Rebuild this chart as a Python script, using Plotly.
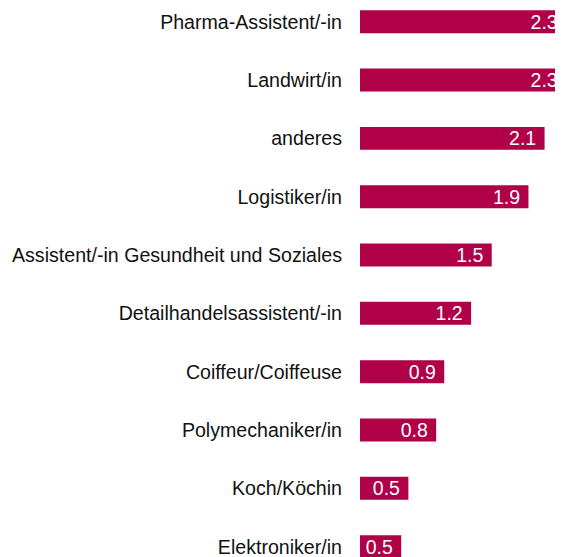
import plotly.graph_objects as go

categories = [
    "Pharma-Assistent/-in",
    "Landwirt/in",
    "anderes",
    "Logistiker/in",
    "Assistent/-in Gesundheit und Soziales",
    "Detailhandelsassistent/-in",
    "Coiffeur/Coiffeuse",
    "Polymechaniker/in",
    "Koch/Köchin",
    "Elektroniker/in",
]
values = [2.3, 2.3, 2.06, 1.88, 1.47, 1.24, 0.94, 0.85, 0.54, 0.46]

BAR_COLOR = "#AF0048"
FONT = "Arial, Liberation Sans, sans-serif"

fig = go.Figure(
    go.Bar(
        x=values,
        y=categories,
        orientation="h",
        marker=dict(color=BAR_COLOR, line=dict(width=0)),
        width=0.394,
        texttemplate="%{x:.1f}\u00a0",
        textposition="inside",
        insidetextanchor="end",
        constraintext="none",
        textfont=dict(family=FONT, size=19.5, color="white"),
        hoverinfo="skip",
    )
)

fig.update_layout(
    template="none",
    width=555,
    height=549,
    margin=dict(l=352, r=0, t=0, b=0, pad=0),
    paper_bgcolor="white",
    plot_bgcolor="white",
    showlegend=False,
    font=dict(family=FONT, size=19.6, color="#111111"),
)
fig.update_xaxes(
    range=[0, 2.2656],
    showgrid=False,
    zeroline=False,
    showline=False,
    showticklabels=False,
    ticks="",
    automargin=False,
)
fig.update_yaxes(
    type="category",
    categoryorder="array",
    categoryarray=categories,
    range=[9.177, -0.235],
    showgrid=False,
    zeroline=False,
    showline=False,
    ticks="",
    ticklabelstandoff=17,
    tickfont=dict(family=FONT, size=19.6, color="#111111"),
    automargin=False,
)

fig.write_html("out.html")
